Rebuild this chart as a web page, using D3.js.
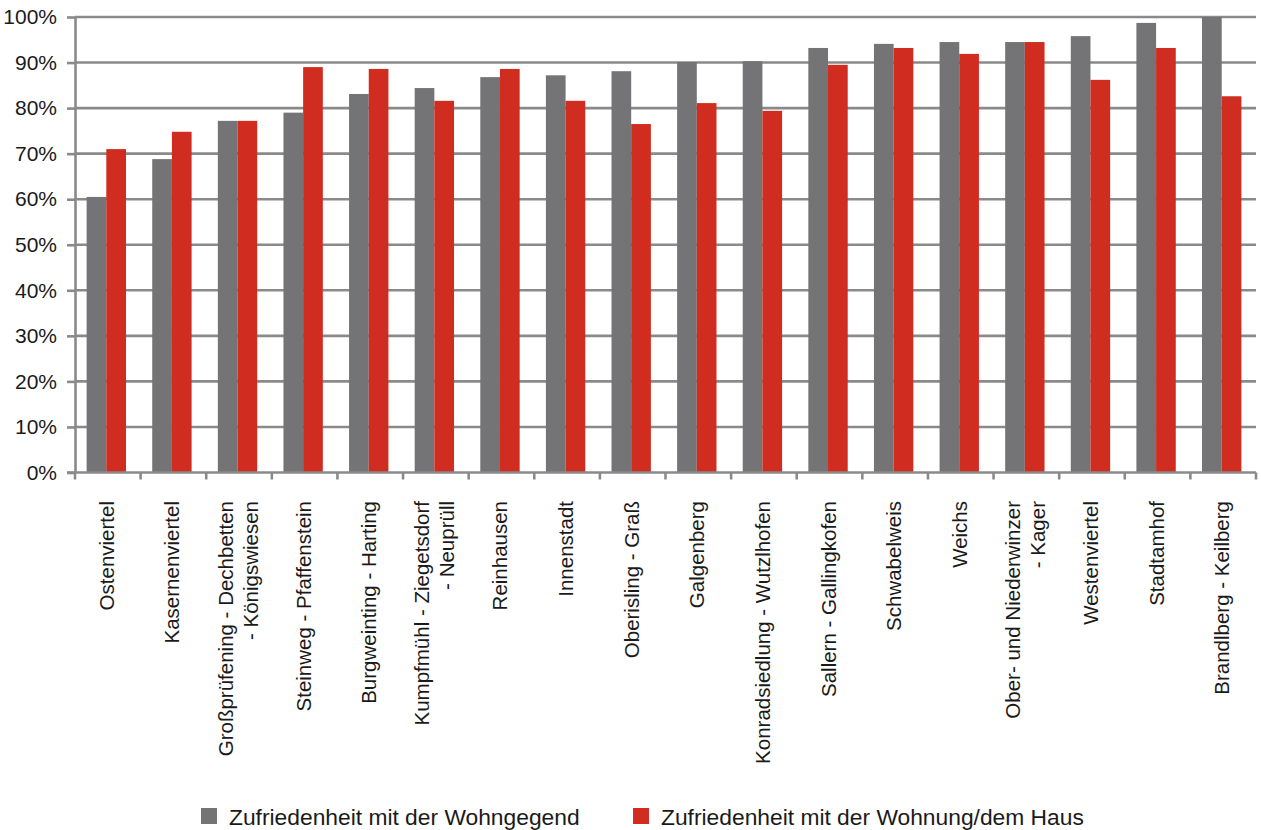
<!DOCTYPE html>
<html>
<head>
<meta charset="utf-8">
<script src="https://cdn.jsdelivr.net/npm/d3@7"></script>
<style>
  html, body { margin: 0; padding: 0; background: #fff; }
  svg { display: block; font-family: "Liberation Sans", Arial, Helvetica, sans-serif; }
</style>
</head>
<body>
<svg id="chart" width="1261" height="830"></svg>
<script>
const categories = [
  ["Ostenviertel"],
  ["Kasernenviertel"],
  ["Großprüfening - Dechbetten", "- Königswiesen"],
  ["Steinweg - Pfaffenstein"],
  ["Burgweinting - Harting"],
  ["Kumpfmühl - Ziegetsdorf", "- Neuprüll"],
  ["Reinhausen"],
  ["Innenstadt"],
  ["Oberisling - Graß"],
  ["Galgenberg"],
  ["Konradsiedlung - Wutzlhofen"],
  ["Sallern - Gallingkofen"],
  ["Schwabelweis"],
  ["Weichs"],
  ["Ober- und Niederwinzer", "- Kager"],
  ["Westenviertel"],
  ["Stadtamhof"],
  ["Brandlberg - Keilberg"]
];
const seriesNames = ["Zufriedenheit mit der Wohngegend", "Zufriedenheit mit der Wohnung/dem Haus"];
const wohngegend = [60.5, 68.8, 77.2, 79.0, 83.1, 84.4, 86.8, 87.2, 88.1, 90.1, 90.3, 93.2, 94.1, 94.5, 94.5, 95.8, 98.7, 100.0];
const wohnung    = [71.0, 74.8, 77.2, 89.0, 88.6, 81.6, 88.6, 81.6, 76.5, 81.1, 79.4, 89.5, 93.2, 91.9, 94.5, 86.2, 93.2, 82.6];
const yTicks = [0, 10, 20, 30, 40, 50, 60, 70, 80, 90, 100];
const colors = ["#747476", "#d02c1f"];

const svg = d3.select("#chart");
const mLeft = 75, mRight = 1256, mTop = 17, mBottom = 472.5;

const keys = categories.map((c, i) => i);
const x = d3.scaleBand().domain(keys).range([mLeft, mRight]).paddingInner(0.4).paddingOuter(0.2);
const xStep = d3.scaleBand().domain(keys).range([mLeft, mRight]).padding(0);
const x1 = d3.scaleBand().domain([0, 1]).range([0, x.bandwidth()]).padding(0);
const y = d3.scaleLinear().domain([0, 100]).range([mBottom, mTop]);

const gridColor = "#8a8a8a";

// gridlines
svg.append("g").selectAll("line").data(yTicks.filter(t => t > 0)).join("line")
  .attr("x1", mLeft).attr("x2", mRight)
  .attr("y1", d => y(d)).attr("y2", d => y(d))
  .attr("stroke", gridColor).attr("stroke-width", 2.6);

// bars
const data = [wohngegend, wohnung];
const g = svg.append("g");
keys.forEach(i => {
  data.forEach((arr, s) => {
    g.append("rect")
      .attr("x", x(i) + x1(s) - 1.5)
      .attr("y", y(arr[i]))
      .attr("width", x1.bandwidth())
      .attr("height", y(0) - y(arr[i]))
      .attr("fill", colors[s]);
  });
});

// y axis
const yAxis = d3.axisLeft(y).tickValues(yTicks).tickFormat(d => d + "%").tickSize(8).tickSizeOuter(0).tickPadding(10);
const ya = svg.append("g").attr("transform", `translate(${mLeft},0)`).call(yAxis);
ya.select(".domain").attr("stroke", gridColor).attr("stroke-width", 2.6);
ya.selectAll(".tick line").attr("stroke", gridColor).attr("stroke-width", 2.6);
ya.selectAll(".tick text").attr("font-size", 21).attr("fill", "#1a1a1a")
  .attr("font-family", "'Liberation Sans', Arial, sans-serif");

// x axis baseline
svg.append("line").attr("x1", mLeft - 8).attr("x2", mRight).attr("y1", y(0)).attr("y2", y(0))
  .attr("stroke", gridColor).attr("stroke-width", 2.6);
// x ticks at band boundaries
const bounds = keys.map(i => xStep(i)).concat([mRight]);
svg.append("g").selectAll("line").data(bounds).join("line")
  .attr("x1", d => d).attr("x2", d => d)
  .attr("y1", y(0)).attr("y2", y(0) + 7)
  .attr("stroke", gridColor).attr("stroke-width", 2.6);

// x labels
const lab = svg.append("g");
categories.forEach((lines, i) => {
  const cx = xStep(i) + xStep.bandwidth() / 2;
  const t = lab.append("text")
    .attr("transform", `translate(${cx},501) rotate(-90)`)
    .attr("text-anchor", "end")
    .attr("font-size", 20.5)
    .attr("fill", "#1a1a1a");
  const n = lines.length;
  lines.forEach((ln, k) => {
    t.append("tspan").attr("x", 0).attr("y", (k - (n - 1) / 2) * 25 + 6).text(ln);
  });
});

// legend
const legendX = [201, 633];
const lg = svg.append("g");
seriesNames.forEach((name, s) => {
  lg.append("rect").attr("x", legendX[s]).attr("y", 808).attr("width", 16).attr("height", 16).attr("fill", colors[s]);
  lg.append("text").attr("x", legendX[s] + 28).attr("y", 825).attr("font-size", 22.8).attr("fill", "#1a1a1a").text(name);
});
</script>
</body>
</html>
